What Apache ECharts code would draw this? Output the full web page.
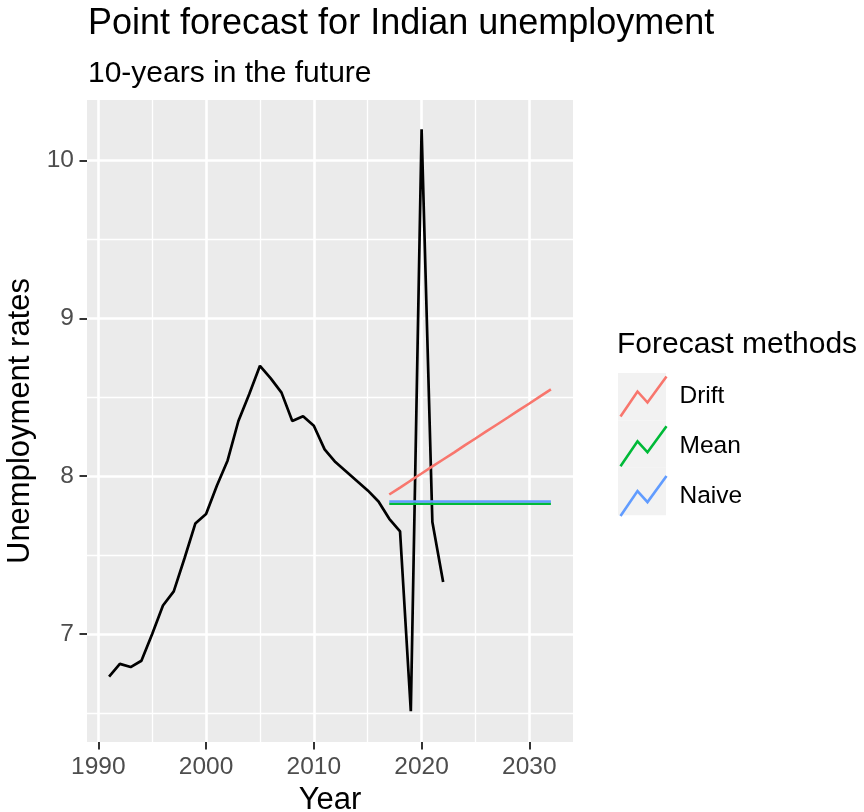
<!DOCTYPE html>
<html><head><meta charset="utf-8">
<script src="https://cdn.jsdelivr.net/npm/echarts@6/dist/echarts.min.js"></script>
<style>html,body{margin:0;padding:0;background:#fff}#c{width:864px;height:812px}</style>
</head><body><div id="c"></div>
<script>
const years = [1991,1992,1993,1994,1995,1996,1997,1998,1999,2000,2001,2002,2003,2004,2005,2006,2007,2008,2009,2010,2011,2012,2013,2014,2015,2016,2017,2018,2019,2020,2021,2022];
const unemployment = [6.73,6.81,6.79,6.83,7.00,7.18,7.27,7.48,7.70,7.76,7.94,8.10,8.35,8.52,8.70,8.62,8.53,8.35,8.38,8.32,8.17,8.09,8.03,7.97,7.91,7.84,7.73,7.65,6.51,10.20,7.71,7.33];
const forecastYears = [2017,2018,2019,2020,2021,2022,2023,2024,2025,2026,2027,2028,2029,2030,2031,2032];
const driftForecast = [7.884,7.928,7.973,8.017,8.062,8.106,8.150,8.195,8.239,8.284,8.328,8.372,8.417,8.461,8.506,8.550];
const meanForecast = [7.825,7.825,7.825,7.825,7.825,7.825,7.825,7.825,7.825,7.825,7.825,7.825,7.825,7.825,7.825,7.825];
const naiveForecast = [7.84,7.84,7.84,7.84,7.84,7.84,7.84,7.84,7.84,7.84,7.84,7.84,7.84,7.84,7.84,7.84];
const methods = ['Drift','Mean','Naive'];
const methodColors = ['#F8766D','#00BA38','#619CFF'];
const xMajorTicks = [1990,2000,2010,2020,2030];
const xMinorTicks = [1995,2005,2015,2025];
const yMajorTicks = [7,8,9,10];
const yMinorTicks = [6.5,7.5,8.5,9.5];
const xRange = [1988.95, 2034.05];
const yRange = [6.315, 10.385];

const FONT = 'Liberation Sans, Arial, Helvetica, sans-serif';
const pairs = (xs, ys) => xs.map((x, i) => [x, ys[i]]);
const keyIcon = 'path://M0,40 L17,15 L27,26 L46,0';

const chart = echarts.init(document.getElementById('c'), null, {renderer: 'canvas'});
const forecasts = [driftForecast, meanForecast, naiveForecast];

const option = {
  backgroundColor: '#ffffff',
  animation: false,
  textStyle: {fontFamily: FONT},
  title: [
    {text: 'Point forecast for Indian unemployment', left: 88, top: 6, padding: 0,
     textStyle: {fontFamily: FONT, fontSize: 36, fontWeight: 'normal', color: '#000'}},
    {text: '10-years in the future', left: 88, top: 59, padding: 0,
     textStyle: {fontFamily: FONT, fontSize: 30, fontWeight: 'normal', color: '#000'}},
    {text: 'Forecast methods', left: 617, top: 330, padding: 0,
     textStyle: {fontFamily: FONT, fontSize: 30, fontWeight: 'normal', color: '#000'}}
  ],
  grid: {left: 87, right: 291, top: 100, bottom: 70, show: true, backgroundColor: '#EBEBEB', borderWidth: 0, containLabel: false, outerBoundsMode: 'none'},
  legend: [
    {orient: 'vertical', left: 618, top: 373, padding: 0, itemGap: 0, itemWidth: 48, itemHeight: 47.4, z: 3,
     selectedMode: false, icon: 'rect', symbolKeepAspect: false,
     itemStyle: {color: '#F2F2F2', borderWidth: 0},
     textStyle: {fontFamily: FONT, fontSize: 24.5, color: 'rgba(0,0,0,0)', padding: [0,0,0,6]},
     data: methods},
    {orient: 'vertical', left: 618, top: 374, padding: 0, itemGap: 4.8, itemWidth: 46, itemHeight: 40, z: 5,
     selectedMode: false, symbolKeepAspect: false,
     textStyle: {fontFamily: FONT, fontSize: 24.5, color: '#000', padding: [0,0,0,8]},
     data: methods.map((m, i) => ({name: m, icon: keyIcon,
       itemStyle: {color: 'none', borderColor: methodColors[i], borderWidth: 2.6}}))}
  ],
  xAxis: [
    {type: 'value', min: xRange[0], max: xRange[1],
     name: 'Year', nameLocation: 'middle', nameGap: 36,
     nameTextStyle: {fontFamily: FONT, fontSize: 31, color: '#000'},
     axisLine: {show: false},
     axisTick: {show: true, length: 7.5, customValues: xMajorTicks, lineStyle: {color: '#333333', width: 2}},
     axisLabel: {show: true, margin: 13, customValues: xMajorTicks, formatter: v => String(v),
       fontFamily: FONT, fontSize: 24.5, color: '#4D4D4D'},
     splitLine: {show: true, lineStyle: {color: '#FFFFFF', width: 2.6}}},
    {type: 'value', min: xRange[0], max: xRange[1], position: 'bottom',
     axisLine: {show: false},
     axisTick: {show: false, customValues: xMinorTicks},
     axisLabel: {show: false, customValues: xMinorTicks},
     splitLine: {show: true, lineStyle: {color: '#FFFFFF', width: 1.3}}}
  ],
  yAxis: [
    {type: 'value', min: yRange[0], max: yRange[1],
     name: 'Unemployment rates', nameLocation: 'middle', nameGap: 39, nameRotate: 90,
     nameTextStyle: {fontFamily: FONT, fontSize: 31, color: '#000'},
     axisLine: {show: false},
     axisTick: {show: true, length: 7.5, customValues: yMajorTicks, lineStyle: {color: '#333333', width: 2}},
     axisLabel: {show: true, margin: 13, customValues: yMajorTicks, formatter: v => String(v),
       fontFamily: FONT, fontSize: 24.5, color: '#4D4D4D'},
     splitLine: {show: true, lineStyle: {color: '#FFFFFF', width: 2.6}}},
    {type: 'value', min: yRange[0], max: yRange[1], position: 'left',
     axisLine: {show: false},
     axisTick: {show: false, customValues: yMinorTicks},
     axisLabel: {show: false, customValues: yMinorTicks},
     splitLine: {show: true, lineStyle: {color: '#FFFFFF', width: 1.3}}}
  ],
  series: [
    {name: 'Actual', type: 'line', xAxisIndex: 0, yAxisIndex: 0, data: pairs(years, unemployment),
     showSymbol: false, symbol: 'none', lineStyle: {color: '#000000', width: 2.7}, itemStyle: {color: '#000000'}, z: 3}
  ].concat(methods.map((m, i) => ({
     name: m, type: 'line', xAxisIndex: 0, yAxisIndex: 0, data: pairs(forecastYears, forecasts[i]),
     showSymbol: false, symbol: 'none', lineStyle: {color: methodColors[i], width: 2.6},
     itemStyle: {color: methodColors[i]}, z: 4 + i
  })))
};
chart.setOption(option);
</script>
</body></html>
